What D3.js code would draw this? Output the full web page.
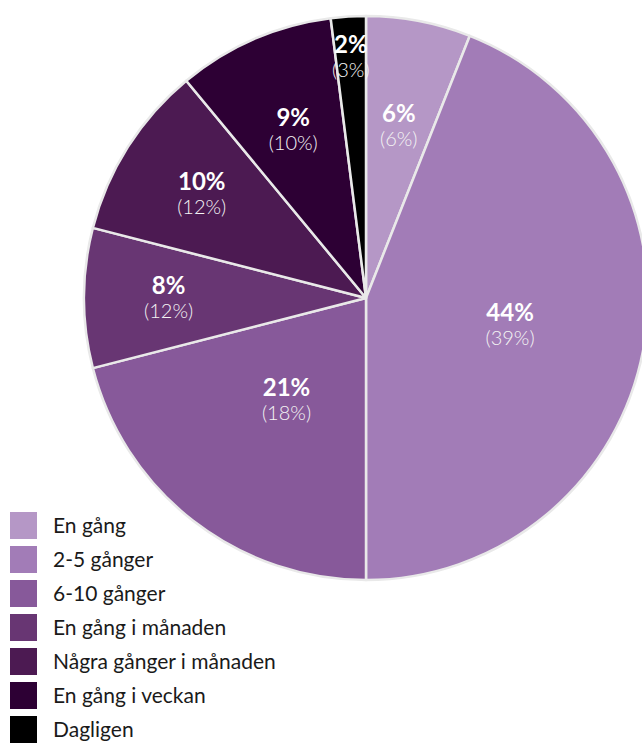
<!DOCTYPE html>
<html>
<head>
<meta charset="utf-8">
<script src="https://cdn.jsdelivr.net/npm/d3@7"></script>
<style>
  body { margin: 0; background: #fff; }
  svg text { font-family: Lato, "Noto Sans", sans-serif; }
</style>
</head>
<body>
<script>
// Data
var categories = ['En gång', '2-5 gånger', '6-10 gånger', 'En gång i månaden',
                  'Några gånger i månaden', 'En gång i veckan', 'Dagligen'];
var current = [6, 44, 21, 8, 10, 9, 2];
var previous = [6, 39, 18, 12, 12, 10, 3];
var colors = ['#b597c6', '#a27cb7', '#87599a', '#683673', '#4c1a52', '#2d0034', '#000000'];

// label distance from centre, as share of radius
var labelDist = [0.62, 0.52, 0.46, 0.70, 0.69, 0.65, 0.855];

var width = 642, height = 743;
var cx = 366, cy = 298, radius = 282;

var svg = d3.select('body').append('svg')
  .attr('width', width).attr('height', height);

var pie = d3.pie().sort(null).value(function (d) { return d; });
var arcs = pie(current);

var arc = d3.arc().innerRadius(0).outerRadius(radius);

var g = svg.append('g').attr('transform', 'translate(' + cx + ',' + cy + ')');

g.selectAll('path')
  .data(arcs)
  .enter()
  .append('path')
  .attr('d', arc)
  .attr('fill', function (d, i) { return colors[i]; })
  .attr('stroke', '#e9e9e9')
  .attr('stroke-width', 2.5)
  .attr('stroke-linejoin', 'round');

var labels = g.selectAll('g.lbl')
  .data(arcs)
  .enter()
  .append('g')
  .attr('class', 'lbl')
  .attr('transform', function (d, i) {
    var a = (d.startAngle + d.endAngle) / 2;
    var r = radius * labelDist[i];
    return 'translate(' + (Math.sin(a) * r) + ',' + (-Math.cos(a) * r) + ')';
  });

labels.append('text')
  .attr('text-anchor', 'middle')
  .attr('y', -4)
  .attr('fill', '#ffffff')
  .style('font-size', '24px')
  .style('font-weight', 'bold')
  .text(function (d) { return d.data + '%'; });

labels.append('text')
  .attr('text-anchor', 'middle')
  .attr('y', 20)
  .attr('fill', '#f4f4f4')
  .style('font-size', '20px')
  .style('font-weight', 300)
  .text(function (d, i) { return '(' + previous[i] + '%)'; });

// Legend
var legend = svg.append('g').attr('transform', 'translate(10,512)');

var item = legend.selectAll('g')
  .data(categories)
  .enter()
  .append('g')
  .attr('transform', function (d, i) { return 'translate(0,' + (i * 34) + ')'; });

item.append('rect')
  .attr('width', 27).attr('height', 27)
  .attr('fill', function (d, i) { return colors[i]; });

item.append('text')
  .attr('x', 43)
  .attr('y', 21)
  .attr('fill', '#1a1a1a')
  .style('font-size', '21px')
  .text(function (d) { return d; });
</script>
</body>
</html>
